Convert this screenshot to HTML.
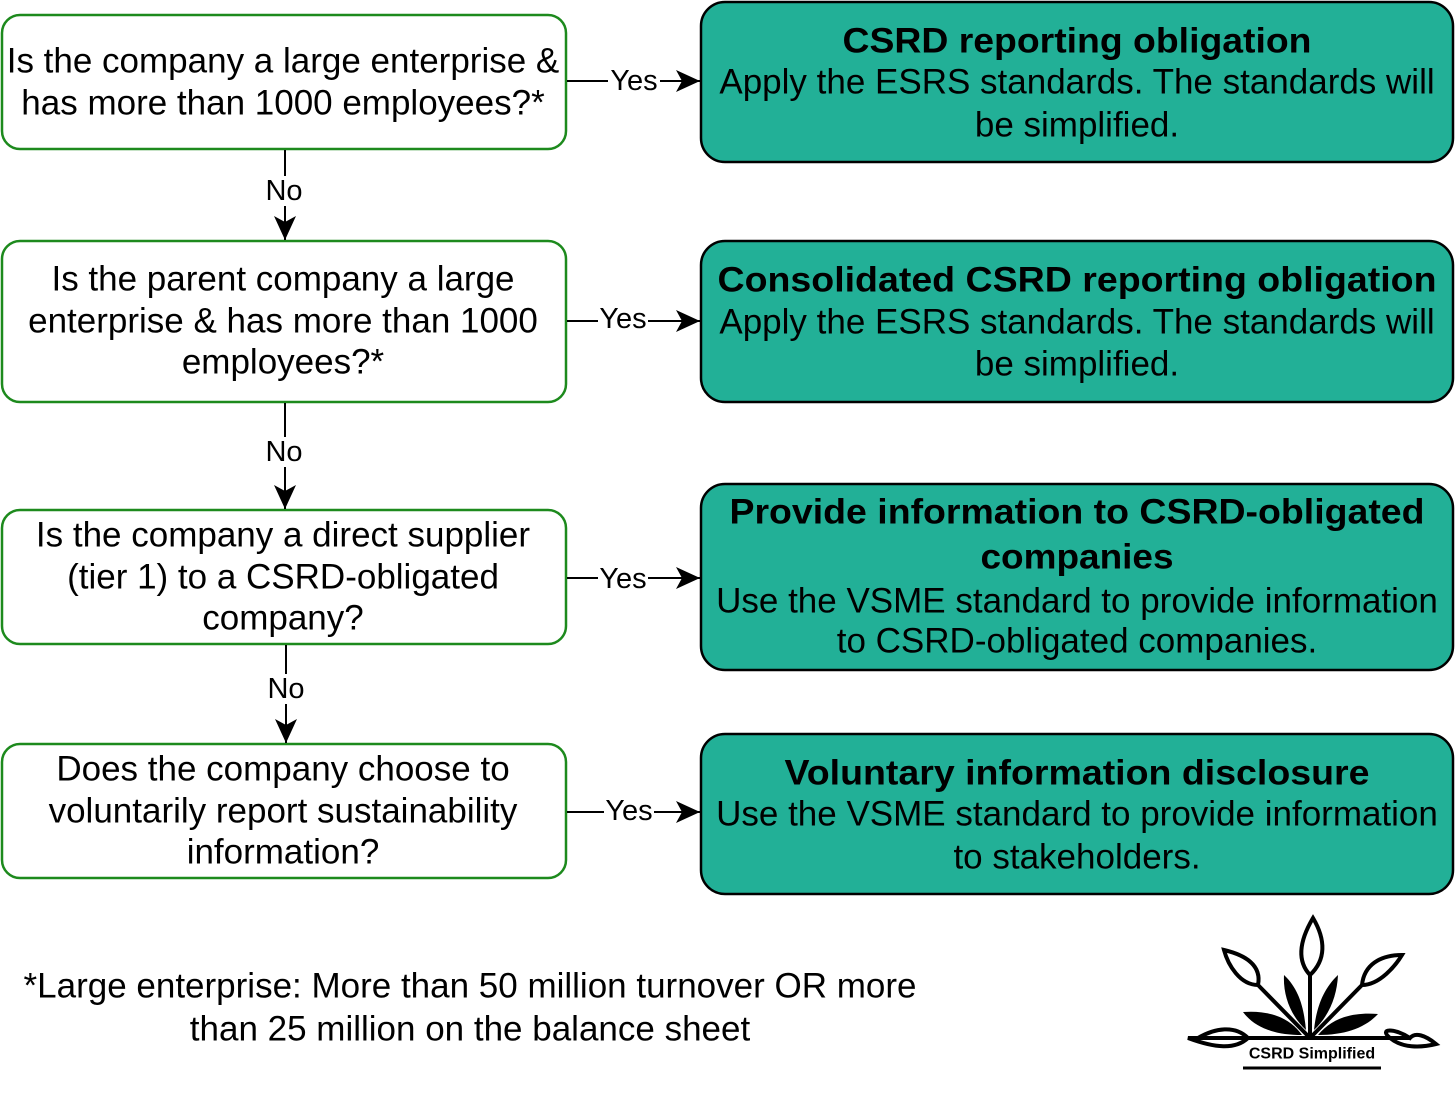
<!DOCTYPE html>
<html><head><meta charset="utf-8"><style>
html,body{margin:0;padding:0;background:#fff;}
svg text{font-family:"Liberation Sans",Arial,sans-serif;fill:#000;}
</style></head><body>
<svg width="1456" height="1090" viewBox="0 0 1456 1090" xmlns="http://www.w3.org/2000/svg">
<defs>
<marker id="b" markerWidth="26" markerHeight="26" refX="24" refY="13" orient="auto" markerUnits="userSpaceOnUse"><path d="M0,2 L24,13 L0,24 L6,13 Z" fill="#000"/></marker></defs>
<g fill="#fff" stroke="#1d8a1d" stroke-width="2.5">
<rect x="2" y="15" width="564" height="134" rx="18"/>
<rect x="2" y="241" width="564" height="161" rx="18"/>
<rect x="2" y="510" width="564" height="134" rx="18"/>
<rect x="2" y="744" width="564" height="134" rx="18"/>
</g>
<g fill="#22b097" stroke="#000" stroke-width="2.5">
<rect x="701" y="2" width="752" height="160" rx="24"/>
<rect x="701" y="241" width="752" height="161" rx="24"/>
<rect x="701" y="484" width="752" height="186" rx="24"/>
<rect x="701" y="734" width="752" height="160" rx="24"/>
</g>
<g stroke="#000" stroke-width="2" fill="none" marker-end="url(#b)">
<path d="M567 81 H700"/><path d="M567 321 H700"/><path d="M567 578 H700"/><path d="M567 812 H700"/>
<path d="M285 150 V240"/><path d="M285 403 V509"/><path d="M286 645 V743"/>
</g>
<g font-size="29" text-anchor="middle" dominant-baseline="central">
<rect x="608" y="66" width="52" height="30" fill="#fff"/><text x="634" y="81">Yes</text>
<rect x="598" y="304" width="50" height="30" fill="#fff"/><text x="623" y="319">Yes</text>
<rect x="598" y="564" width="50" height="30" fill="#fff"/><text x="623" y="579">Yes</text>
<rect x="604" y="797" width="50" height="30" fill="#fff"/><text x="629" y="811">Yes</text>
<rect x="262" y="176" width="44" height="30" fill="#fff"/><text x="284" y="191">No</text>
<rect x="262" y="437" width="44" height="30" fill="#fff"/><text x="284" y="452">No</text>
<rect x="264" y="674" width="44" height="30" fill="#fff"/><text x="286" y="689">No</text>
</g>
<g font-size="35" text-anchor="middle" dominant-baseline="central">
<text x="283" y="61">Is the company a large enterprise &amp;</text>
<text x="283" y="103">has more than 1000 employees?*</text>
<text x="283" y="279">Is the parent company a large</text>
<text x="283" y="321">enterprise &amp; has more than 1000</text>
<text x="283" y="362">employees?*</text>
<text x="283" y="535">Is the company a direct supplier</text>
<text x="283" y="577">(tier 1) to a CSRD-obligated</text>
<text x="283" y="618">company?</text>
<text x="283" y="769">Does the company choose to</text>
<text x="283" y="811">voluntarily report sustainability</text>
<text x="283" y="852">information?</text>
<text x="1077" y="41" font-weight="bold" textLength="469" lengthAdjust="spacingAndGlyphs">CSRD reporting obligation</text>
<text x="1077" y="82">Apply the ESRS standards. The standards will</text>
<text x="1077" y="125">be simplified.</text>
<text x="1077" y="280" font-weight="bold" textLength="719" lengthAdjust="spacingAndGlyphs">Consolidated CSRD reporting obligation</text>
<text x="1077" y="322">Apply the ESRS standards. The standards will</text>
<text x="1077" y="364">be simplified.</text>
<text x="1077" y="512" font-weight="bold" textLength="695" lengthAdjust="spacingAndGlyphs">Provide information to CSRD-obligated</text>
<text x="1077" y="557" font-weight="bold" textLength="193" lengthAdjust="spacingAndGlyphs">companies</text>
<text x="1077" y="601">Use the VSME standard to provide information</text>
<text x="1077" y="641">to CSRD-obligated companies.</text>
<text x="1077" y="773" font-weight="bold" textLength="585" lengthAdjust="spacingAndGlyphs">Voluntary information disclosure</text>
<text x="1077" y="814">Use the VSME standard to provide information</text>
<text x="1077" y="857">to stakeholders.</text>
<text x="470" y="986">*Large enterprise: More than 50 million turnover OR more</text>
<text x="470" y="1029">than 25 million on the balance sheet</text>
</g>
<!-- logo -->
<g stroke="#000" stroke-width="4" fill="none">
<path d="M1198 1038 H1410"/>
<path d="M1310 1038 V975"/>
<path d="M1310 975 C1296 960 1300 940 1313 918 C1326 940 1326 960 1310 975 Z"/>
<path d="M1310 1038 L1258 985"/>
<path d="M1258 985 C1240 985 1228 965 1224 950 C1245 955 1262 965 1258 985 Z"/>
<path d="M1310 1038 L1362 985"/>
<path d="M1362 985 C1380 985 1396 965 1402 955 C1380 955 1364 965 1362 985 Z"/>
<path d="M1198 1038 C1215 1028 1235 1025 1248 1038 C1235 1050 1215 1048 1188 1038 Z"/>
<path d="M1410 1038 C1395 1028 1378 1028 1390 1038 C1402 1048 1420 1048 1436 1044 C1425 1035 1415 1032 1410 1038 Z"/>
<path d="M1243 1068 H1381" stroke-width="3"/>
</g>
<g fill="#000">
<path d="M1284 975 C1300 990 1304 1010 1306 1030 C1290 1015 1283 995 1284 975 Z"/>
<path d="M1338 975 C1322 990 1316 1010 1314 1030 C1330 1015 1337 995 1338 975 Z"/>
<path d="M1243 1012 C1270 1010 1290 1018 1302 1035 C1275 1035 1255 1028 1243 1012 Z"/>
<path d="M1378 1014 C1352 1012 1332 1018 1318 1035 C1345 1035 1365 1028 1378 1014 Z"/>
</g>
<text x="1312" y="1054" font-size="16" font-weight="bold" text-anchor="middle" dominant-baseline="central">CSRD Simplified</text>
</svg>
</body></html>
